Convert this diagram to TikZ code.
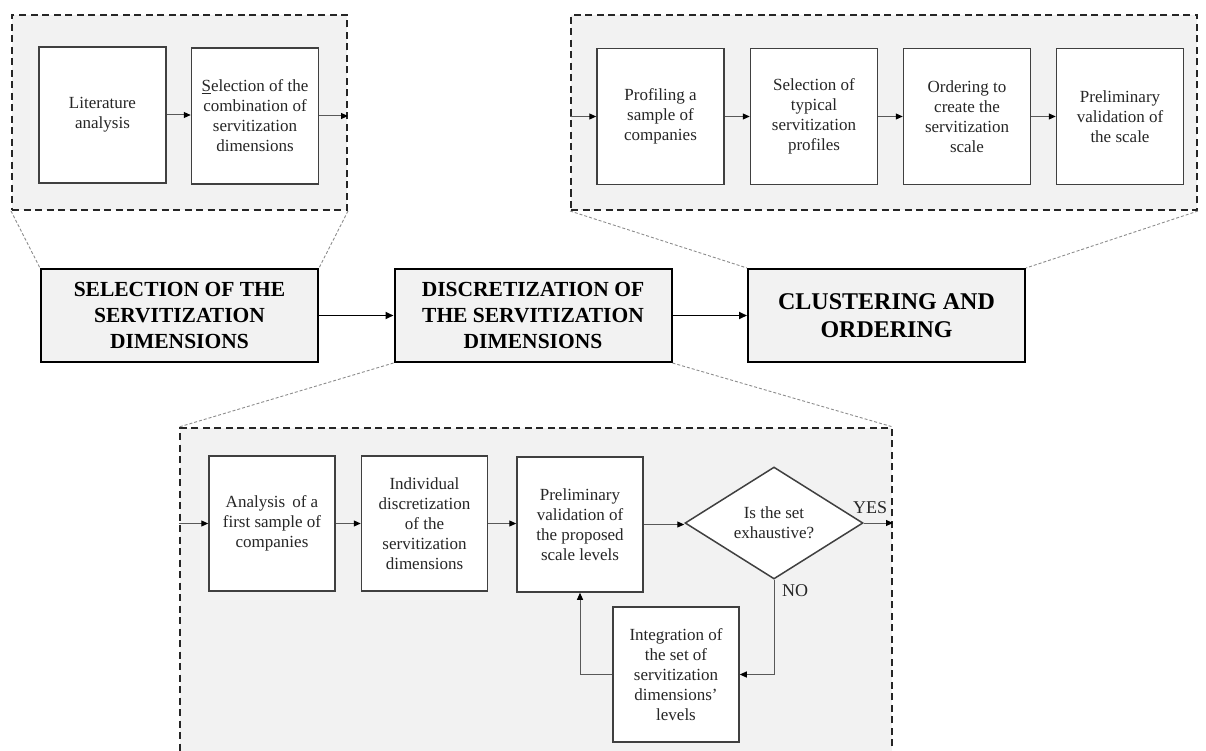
\documentclass[tikz,border=0pt]{standalone}
\usepackage{fontspec}
\setmainfont{Liberation Serif}
\usetikzlibrary{arrows.meta,shapes.geometric}
\definecolor{boxgray}{HTML}{F2F2F2}
\begin{document}
\begin{tikzpicture}[x=1pt,y=-1pt,
  zone/.style={draw=black!85, line width=2pt, dash pattern=on 7pt off 4.5pt, fill=boxgray, inner sep=0pt},
  ibox/.style={draw=black!75, line width=1.5pt, fill=white, inner sep=1pt, minimum width=127pt, minimum height=136pt, align=center, font=\fontsize{17}{20}\selectfont, text=black!85},
  mbox/.style={draw=black, line width=2pt, fill=boxgray, inner sep=1pt, minimum width=277pt, minimum height=93pt, align=center, font=\fontsize{21.5}{26}\selectfont\bfseries},
  dbox/.style={diamond, aspect=1.6, draw=black!75, line width=1.5pt, fill=white, inner sep=0pt, minimum width=178pt, minimum height=112pt, align=center, font=\fontsize{17}{20}\selectfont, text=black!85},
  lbl/.style={font=\fontsize{18}{20}\selectfont, text=black!85, inner sep=0pt},
  flow/.style={draw=black!65, line width=1pt, -{Triangle[length=7pt,width=6pt,color=black]}},
  mflow/.style={draw=black, line width=1.8pt, -{Triangle[length=8pt,width=7pt]}},
  zoomline/.style={draw=black!45, line width=0.9pt, dash pattern=on 3pt off 2pt},
]
\useasboundingbox (0,0) rectangle (1206,751);
\clip (0,0) rectangle (1206,751);

% dashed zones
\node[zone, minimum width=335pt, minimum height=195pt] (tl) at (179.5,112.5) {};
\node[zone, minimum width=626pt, minimum height=195pt] (tr) at (884,112.5) {};
\node[zone, minimum width=712pt, minimum height=342pt] (bd) at (536,599) {};

% main row
\node[mbox] (m1) at (179.5,315.5) {SELECTION OF THE\\SERVITIZATION\\DIMENSIONS};
\node[mbox] (m2) at (533,315.5) {DISCRETIZATION OF\\THE SERVITIZATION\\DIMENSIONS};
\node[mbox, font=\fontsize{24}{28}\selectfont\bfseries] (m3) at (886.5,315.5) {CLUSTERING AND\\ORDERING};

% zoom lines
\draw[zoomline] (tl.south west) -- (m1.north west);
\draw[zoomline] (tl.south east) -- (m1.north east);
\draw[zoomline] (tr.south west) -- (m3.north west);
\draw[zoomline] (tr.south east) -- (m3.north east);
\draw[zoomline] (m2.south west) -- (bd.north west);
\draw[zoomline] (m2.south east) -- (bd.north east);

% main arrows
\draw[mflow] (m1.east) -- (m2.west);
\draw[mflow] (m2.east) -- (m3.west);

% top-left detail
\node[ibox] (lit) at (102.5,115) {Literature\\analysis};
\node[ibox] (sel) at (255,116) {\underline{S}election of the\\combination of\\servitization\\dimensions};
\draw[flow] (lit.east) -- (lit.east -| sel.west);
\draw[flow] (sel.east) -- (sel.east -| tl.east);

% top-right detail
\node[ibox] (prof) at (660.5,116.5) {Profiling a\\sample of\\companies};
\node[ibox] (typ) at (814,116.5) {Selection of\\typical\\servitization\\profiles};
\node[ibox] (ord) at (967,116.5) {Ordering to\\create the\\servitization\\scale};
\node[ibox] (pval) at (1120,116.5) {Preliminary\\validation of\\the scale};
\draw[flow] (tr.west |- prof.west) -- (prof.west);
\draw[flow] (prof.east) -- (typ.west);
\draw[flow] (typ.east) -- (ord.west);
\draw[flow] (ord.east) -- (pval.west);

% bottom detail
\node[ibox, minimum width=126pt, minimum height=135pt] (ana) at (272,523.5) {Analysis\, of a\\first sample of\\companies};
\node[ibox, minimum width=126pt, minimum height=135pt] (ind) at (424.5,523.5) {Individual\\discretization\\of the\\servitization\\dimensions};
\node[ibox, minimum width=126pt, minimum height=135pt] (prl) at (580,524.5) {Preliminary\\validation of\\the proposed\\scale levels};
\node[dbox] (dia) at (774,523) {Is the set\\exhaustive?};
\node[ibox, minimum width=126pt, minimum height=135pt] (int) at (676,674.5) {Integration of\\the set of\\servitization\\dimensions’\\levels};
\node[lbl] (yes) at (870,508) {YES};
\node[lbl] (no) at (795,591) {NO};

\draw[flow] (bd.west |- ana.west) -- (ana.west);
\draw[flow] (ana.east) -- (ind.west);
\draw[flow] (ind.east) -- (ind.east -| prl.west);
\draw[flow] (prl.east) -- (prl.east -| dia.west);
\draw[flow] (dia.east) -- (dia.east -| bd.east);
\draw[flow] (dia.south) |- (int.east);
\draw[flow] (int.west) -| (prl.south);
\end{tikzpicture}
\end{document}
